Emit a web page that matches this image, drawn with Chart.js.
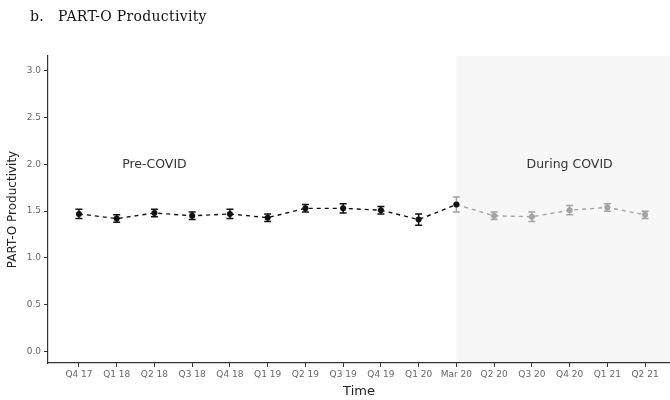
<!DOCTYPE html>
<html>
<head>
<meta charset="utf-8">
<script src="https://cdn.jsdelivr.net/npm/chart.js@4"></script>
<style>
  html, body { margin: 0; padding: 0; background: #fff; }
  #wrap { position: relative; width: 670px; height: 400px; }
  #title {
    position: absolute; left: 30px; top: 8px;
    font-family: "DejaVu Serif", "Liberation Serif", serif;
    font-size: 14px; letter-spacing: 0.3px; color: #111; white-space: pre;
  }
  #title .num { display: inline-block; width: 28px; }
</style>
</head>
<body>
<div id="wrap">
  <div id="title"><span class="num">b.</span>PART-O Productivity</div>
  <canvas id="chart" width="670" height="400"></canvas>
</div>
<script>
// PART-O productivity per quarter, pre / during COVID

const quarters = ["Q4 17", "Q1 18", "Q2 18", "Q3 18", "Q4 18", "Q1 19", "Q2 19", "Q3 19",
                  "Q4 19", "Q1 20", "Mar 20", "Q2 20", "Q3 20", "Q4 20", "Q1 21", "Q2 21"];
const productivity = [1.47, 1.42, 1.48, 1.45, 1.47, 1.43, 1.53, 1.53,
                      1.51, 1.41, 1.57, 1.45, 1.44, 1.51, 1.54, 1.46];
const errorMargin = [0.05, 0.04, 0.04, 0.04, 0.05, 0.04, 0.04, 0.05,
                     0.04, 0.06, 0.08, 0.04, 0.05, 0.05, 0.04, 0.04];
const covidStartIndex = 10;          // "Mar 20" starts the shaded period
const yTicks = [0, 0.5, 1, 1.5, 2, 2.5, 3];
const periodLabels = ["Pre-COVID", "During COVID"];
const periodLabelX = [2, 13];
const periodLabelY = 2.0;

const PRE_COLOR = "#111111";
const DURING_COLOR = "#a3a3a3";

const preData = quarters.map((q, i) => ({ x: i, y: productivity[i] })).filter(p => p.x <= covidStartIndex);
const duringData = quarters.map((q, i) => ({ x: i, y: productivity[i] })).filter(p => p.x >= covidStartIndex);

// ─────────────────── plugins ───────────────────
const covidShade = {
  id: "covidShade",
  beforeDatasetsDraw(chart) {
    const { ctx, chartArea, scales } = chart;
    const x0 = scales.x.getPixelForValue(covidStartIndex);
    ctx.save();
    ctx.fillStyle = "#f7f7f7";
    ctx.fillRect(x0, chartArea.top, chartArea.right - x0, chartArea.bottom - chartArea.top - 1);
    ctx.restore();
  },
};

const errorBars = {
  id: "errorBars",
  beforeDatasetsDraw(chart) {
    const { ctx, scales } = chart;
    ctx.save();
    ctx.lineWidth = 1.5;
    productivity.forEach((v, i) => {
      const x = scales.x.getPixelForValue(i);
      const yTop = scales.y.getPixelForValue(v + errorMargin[i]);
      const yBot = scales.y.getPixelForValue(v - errorMargin[i]);
      ctx.strokeStyle = i < covidStartIndex ? PRE_COLOR : DURING_COLOR;
      ctx.beginPath();
      ctx.moveTo(x, yTop); ctx.lineTo(x, yBot);
      ctx.moveTo(x - 3.5, yTop); ctx.lineTo(x + 3.5, yTop);
      ctx.moveTo(x - 3.5, yBot); ctx.lineTo(x + 3.5, yBot);
      ctx.stroke();
    });
    ctx.restore();
  },
};

const periodText = {
  id: "periodText",
  afterDatasetsDraw(chart) {
    const { ctx, scales } = chart;
    ctx.save();
    ctx.font = "12.5px 'DejaVu Sans', sans-serif";
    ctx.fillStyle = "#333";
    ctx.textAlign = "center";
    ctx.textBaseline = "middle";
    periodLabels.forEach((t, i) => {
      ctx.fillText(t, scales.x.getPixelForValue(periodLabelX[i]), scales.y.getPixelForValue(periodLabelY));
    });
    ctx.restore();
  },
};

// ─────────────────── chart ───────────────────
Chart.defaults.font.family = "'DejaVu Sans', sans-serif";

new Chart(document.getElementById("chart"), {
  type: "line",
  data: {
    datasets: [{
      label: "Pre-COVID",
      data: preData,
      borderColor: PRE_COLOR,
      backgroundColor: PRE_COLOR,
      borderWidth: 1.4,
      borderDash: [4, 4],
      pointRadius: 3,
      pointBorderWidth: 0,
      tension: 0,
    }, {
      label: "During COVID",
      data: duringData,
      borderColor: DURING_COLOR,
      backgroundColor: DURING_COLOR,
      borderWidth: 1.4,
      borderDash: [4, 4],
      pointRadius: 3,
      pointBorderWidth: 0,
      tension: 0,
    }],
  },
  options: {
    responsive: false,
    animation: false,
    layout: { autoPadding: false, padding: { top: 56, left: 0, right: 0, bottom: 0 } },
    plugins: {
      legend: { display: false },
      tooltip: { enabled: false },
    },
    scales: {
      x: {
        type: "linear",
        min: -0.82,
        max: 15.66,
        afterFit: s => { s.height = 37; },
        afterBuildTicks: s => { s.ticks = quarters.map((q, i) => ({ value: i })); },
        ticks: {
          autoSkip: false,
          maxRotation: 0,
          color: "#666",
          font: { size: 9 },
          padding: 2,
          callback: v => quarters[v],
        },
        grid: { drawOnChartArea: false, tickLength: 4, color: "#333", lineWidth: 1 },
        border: { display: true, color: "#333", width: 1.2 },
        title: { display: true, text: "Time", color: "#222", font: { size: 13 }, padding: { top: 0, bottom: 1 } },
      },
      y: {
        min: -0.125,
        max: 3.16,
        afterFit: s => { s.width = 48; },
        afterBuildTicks: s => { s.ticks = yTicks.map(v => ({ value: v })); },
        ticks: {
          color: "#666",
          font: { size: 9 },
          padding: 3,
          callback: v => v.toFixed(1),
        },
        grid: { drawOnChartArea: false, tickLength: 4, color: "#333", lineWidth: 1 },
        border: { display: true, color: "#333", width: 1.2 },
        title: { display: true, text: "PART-O Productivity", color: "#222", font: { size: 12 }, padding: { top: 6, bottom: 0 } },
      },
    },
  },
  plugins: [covidShade, errorBars, periodText],
});
</script>
</body>
</html>
